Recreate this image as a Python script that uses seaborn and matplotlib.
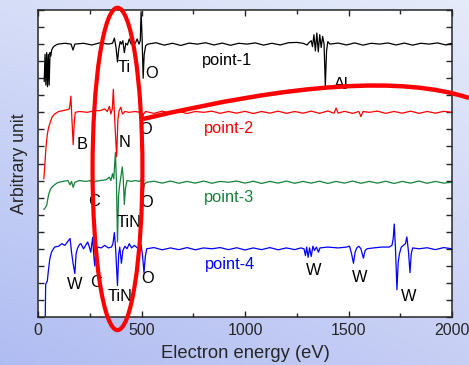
import numpy as np
import seaborn as sns
import matplotlib.pyplot as plt
from matplotlib.patches import Ellipse, PathPatch
from matplotlib.path import Path
from matplotlib.ticker import MultipleLocator

# AES spectra: energy (eV) and offset from each baseline
energy_1 = [30, 34, 38, 42, 46, 50, 54, 58, 62, 66, 72, 80, 95, 130, 160, 169, 178, 220, 260, 300,
            340, 360, 369, 377, 384, 390, 397, 403, 410, 417, 424, 432, 441, 450, 470, 479, 488, 494,
            498, 503, 508, 513, 520, 530, 570, 610, 650, 690, 730, 770, 810, 850, 890, 930, 970, 1010,
            1050, 1090, 1130, 1170, 1210, 1250, 1280, 1300, 1310, 1320, 1326, 1333, 1340, 1347, 1354,
            1361, 1368, 1375, 1382, 1388, 1394, 1400, 1410, 1450, 1490, 1530, 1570, 1610, 1650, 1690,
            1730, 1770, 1810, 1850, 1890, 1930, 1970, 2000]
signal_1 = [-2.2, -0.6, -2.4, -0.5, -2.5, -0.6, -2.4, -0.5, -0.7, -0.35, -0.2, -0.1, 0.0, 0.05, 0.0,
            -0.35, 0.0, 0.05, -0.05, 0.08, 0.0, 0.05, 0.35, -0.2, -1.05, -0.3, 0.15, 0.0, 0.2, -0.5,
            0.05, -0.05, 0.3, 0.0, 0.05, 0.3, 0.0, 0.2, 1.9, 0.3, -2.0, -0.6, -0.1, 0.0, 0.08, -0.06,
            0.05, -0.08, 0.06, 0.0, 0.08, -0.05, 0.06, -0.07, 0.05, 0.0, 0.07, -0.06, 0.05, -0.05,
            0.08, 0.1, 0.05, -0.05, 0.1, 0.2, -0.15, 0.55, -0.4, 0.65, -0.45, 0.55, -0.2, 0.45, 0.0,
            -2.45, -0.4, 0.15, 0.0, 0.06, -0.05, 0.07, -0.06, 0.05, 0.0, 0.07, -0.05, 0.06, -0.06,
            0.05, 0.0, 0.07, -0.05, 0.05]

energy_2 = [28, 32, 36, 39, 45, 51, 60, 67, 80, 100, 121, 140, 152, 159, 163, 170, 175, 180, 200, 240,
            270, 300, 322, 335, 345, 352, 359, 364, 370, 380, 386, 392, 400, 408, 420, 440, 470, 490,
            496, 502, 510, 520, 560, 600, 640, 680, 720, 760, 800, 840, 880, 920, 960, 1000, 1040,
            1080, 1120, 1160, 1200, 1240, 1280, 1320, 1360, 1400, 1430, 1440, 1450, 1480, 1520, 1550,
            1560, 1570, 1600, 1640, 1680, 1720, 1760, 1800, 1840, 1880, 1920, 1960, 2000]
signal_2 = [-3.9, -3.3, -2.5, -2.0, -1.3, -0.9, -0.55, -0.3, -0.1, 0.05, 0.1, 0.15, 0.2, 0.95, -0.2,
            -1.9, -0.6, 0.0, 0.05, 0.0, 0.1, 0.1, 0.2, 0.05, 0.35, -0.1, 0.2, 1.35, -0.3, -2.6, -0.4,
            0.1, 0.3, -0.1, 0.05, 0.0, 0.05, 0.0, 0.3, -0.5, -0.1, 0.05, -0.06, 0.07, -0.05, 0.06,
            -0.07, 0.05, 0.0, 0.07, -0.06, 0.05, -0.05, 0.06, -0.07, 0.05, -0.05, 0.07, -0.06, 0.05,
            -0.05, 0.07, -0.06, 0.08, -0.05, 0.25, -0.05, 0.06, -0.06, 0.05, -0.25, 0.05, 0.0, 0.07,
            -0.06, 0.05, -0.05, 0.07, -0.06, 0.05, -0.05, 0.06, 0.0]

energy_3 = [28, 35, 42, 47, 52, 60, 70, 85, 100, 120, 145, 155, 162, 170, 178, 200, 230, 255, 264, 272,
            300, 330, 345, 352, 360, 366, 374, 379, 384, 389, 393, 400, 407, 412, 417, 422, 430, 450,
            470, 490, 498, 508, 515, 525, 560, 600, 640, 680, 720, 760, 800, 840, 880, 920, 960, 1000,
            1040, 1080, 1120, 1160, 1200, 1240, 1280, 1320, 1360, 1400, 1440, 1480, 1520, 1560, 1600,
            1640, 1680, 1720, 1760, 1800, 1840, 1880, 1920, 1960, 2000]
signal_3 = [-1.6, -1.5, -1.35, -1.0, -0.7, -0.4, -0.25, -0.1, 0.0, 0.05, 0.1, -0.15, 0.05, -0.3, 0.0,
            0.1, 0.05, 0.1, -0.25, 0.05, 0.1, 0.15, 0.3, 0.1, 0.5, 0.2, 1.75, 0.0, -3.5, -0.8, -0.3,
            0.3, 0.9, 0.2, -1.3, -0.4, 0.1, 0.05, 0.1, 0.05, 0.15, -0.5, -0.1, 0.0, 0.06, -0.05, 0.07,
            -0.06, 0.05, -0.05, 0.07, -0.06, 0.05, 0.0, 0.07, -0.05, 0.06, -0.07, 0.05, -0.05, 0.07,
            -0.06, 0.05, -0.05, 0.06, -0.07, 0.05, -0.05, 0.07, -0.06, 0.05, -0.05, 0.06, -0.07, 0.05,
            -0.05, 0.07, -0.06, 0.05, -0.05, 0.0]

energy_4 = [35, 37, 40, 45, 50, 57, 65, 80, 100, 115, 130, 145, 155, 162, 170, 178, 184, 190, 200, 207,
            220, 230, 240, 248, 255, 260, 264, 269, 274, 280, 290, 305, 322, 340, 355, 362, 369, 375,
            384, 390, 395, 403, 410, 420, 430, 441, 452, 465, 480, 490, 498, 505, 512, 518, 525, 560,
            600, 640, 680, 720, 760, 800, 840, 880, 920, 960, 1000, 1040, 1080, 1120, 1160, 1200,
            1240, 1270, 1285, 1292, 1298, 1305, 1312, 1320, 1328, 1336, 1345, 1355, 1362, 1400, 1450,
            1490, 1505, 1515, 1524, 1532, 1540, 1550, 1560, 1572, 1580, 1590, 1620, 1660, 1696, 1710,
            1716, 1721, 1727, 1734, 1740, 1746, 1755, 1765, 1775, 1782, 1790, 1797, 1803, 1810, 1840,
            1880, 1920, 1960, 2000]
signal_4 = [-4.0, -2.1, -2.0, -1.9, -1.3, -0.6, -0.2, 0.1, 0.15, 0.3, 0.2, 0.45, 0.6, -0.2, -0.9,
            -1.45, -0.3, 0.0, 0.25, 0.3, 0.0, 0.2, 0.4, 0.1, -0.2, 0.3, 0.65, -0.3, -1.0, -0.1, 0.1,
            0.05, 0.2, 0.05, 0.1, 0.3, 0.95, 0.0, -2.15, -0.3, 0.1, -0.85, -0.1, 0.15, 0.0, 0.3, 0.05,
            0.2, 0.05, 0.1, 0.25, -0.4, -1.4, -0.5, 0.0, 0.07, -0.06, 0.05, -0.05, 0.07, -0.06, 0.05,
            0.0, 0.07, -0.05, 0.06, -0.07, 0.05, -0.05, 0.07, -0.06, 0.05, -0.05, 0.05, 0.0, -0.4,
            0.1, -0.5, 0.05, -0.45, 0.15, -0.1, 0.1, -0.2, 0.05, 0.1, 0.05, 0.1, 0.15, -0.3, -0.85,
            -0.2, 0.05, 0.15, 0.0, -0.55, -0.1, 0.0, 0.05, 0.1, 0.1, 0.2, 0.6, 1.45, 0.0, -2.4, -0.8,
            -0.3, 0.1, 0.2, 0.3, 0.7, -0.2, -1.4, -0.3, 0.05, 0.0, 0.06, -0.05, 0.07, 0.0]

baselines = [16, 12, 7.9, 4]
names = ["point-1", "point-2", "point-3", "point-4"]
colors = ["black", "#ff0000", "#14813c", "#0000ff"]

# element labels: text, energy, height
peak_text = ["Ti", "O", "Al", "B", "N", "O", "C", "O", "TiN", "W", "C", "O", "TiN", "W", "W", "W"]
peak_x = [415, 548, 1467, 212, 418, 520, 270, 525, 440, 175, 282, 530, 398, 1333, 1552, 1791]
peak_y = [14.6, 14.3, 13.66, 10.14, 10.26, 11.0, 6.8, 6.74, 5.57, 1.93, 2.05, 2.23, 1.23, 2.7, 2.29, 1.23]
name_x = [915, 922, 922, 927]
name_y = [15.06, 11.08, 7.03, 3.05]

sns.set_style("ticks")
plt.rcParams['font.family'] = ['Liberation Sans', 'DejaVu Sans']

fig = plt.figure(figsize=(4.69, 3.65), dpi=100)

# slide background gradient
bg = fig.add_axes([0, 0, 1, 1], zorder=-5)
tl = np.array([0.84, 0.87, 0.97]); tr = np.array([0.90, 0.92, 0.98])
bl = np.array([0.69, 0.74, 0.95]); br = np.array([0.78, 0.81, 0.96])
u = np.linspace(0, 1, 120)[None, :, None]
v = np.linspace(0, 1, 100)[:, None, None]
grad = (1 - v) * ((1 - u) * tl + u * tr) + v * ((1 - u) * bl + u * br)
bg.imshow(grad, aspect='auto', extent=[0, 1, 0, 1])
bg.axis('off')

ax = fig.add_axes([38 / 469, 48 / 365, 414 / 469, 307 / 365])
ax.set_facecolor('white')

spectra = [(energy_1, signal_1), (energy_2, signal_2), (energy_3, signal_3), (energy_4, signal_4)]
for (e, s), base, col in zip(spectra, baselines, colors):
    sns.lineplot(x=e, y=np.array(s) + base, color=col, lw=0.9, ax=ax, errorbar=None)

for nm, x, y, col in zip(names, name_x, name_y, colors):
    ax.text(x, y, nm, color=col, fontsize=11.8, ha='center', va='center')
for t, x, y in zip(peak_text, peak_x, peak_y):
    ax.text(x, y, t, color='black', fontsize=11.8, ha='center', va='center')

ax.set_xlim(0, 2000)
ax.set_ylim(0, 18)
ax.set_xticks([0, 500, 1000, 1500, 2000])
ax.xaxis.set_minor_locator(MultipleLocator(250))
ax.set_yticks(range(0, 19))
ax.set_yticklabels([])
ax.tick_params(direction='in', top=True, right=True, length=4, width=1, labelsize=11.5, pad=4)
ax.tick_params(which='minor', direction='in', top=True, length=3, width=1)
for sp in ax.spines.values():
    sp.set_linewidth(1.1)
ax.set_xlabel("Electron energy (eV)", fontsize=13.2, labelpad=5)
ax.set_ylabel("Arbitrary unit", fontsize=12.8, labelpad=3)

# red highlight ellipse around the Ti/N region
ax.add_patch(Ellipse((384, 8.68), 241, 18.9, fill=False, ec='red', lw=3, clip_on=False, zorder=6))

# red curved pointer leaving the figure on the right
pts = [(143 / 469, 1 - 119 / 365), (370 / 469, 1 - 65 / 365), (469 / 469, 1 - 98 / 365)]
curve = Path(pts, [Path.MOVETO, Path.CURVE3, Path.CURVE3])
fig.add_artist(PathPatch(curve, fill=False, ec='red', lw=3.2, transform=fig.transFigure, zorder=7))

fig.savefig("out.png", dpi=100)
